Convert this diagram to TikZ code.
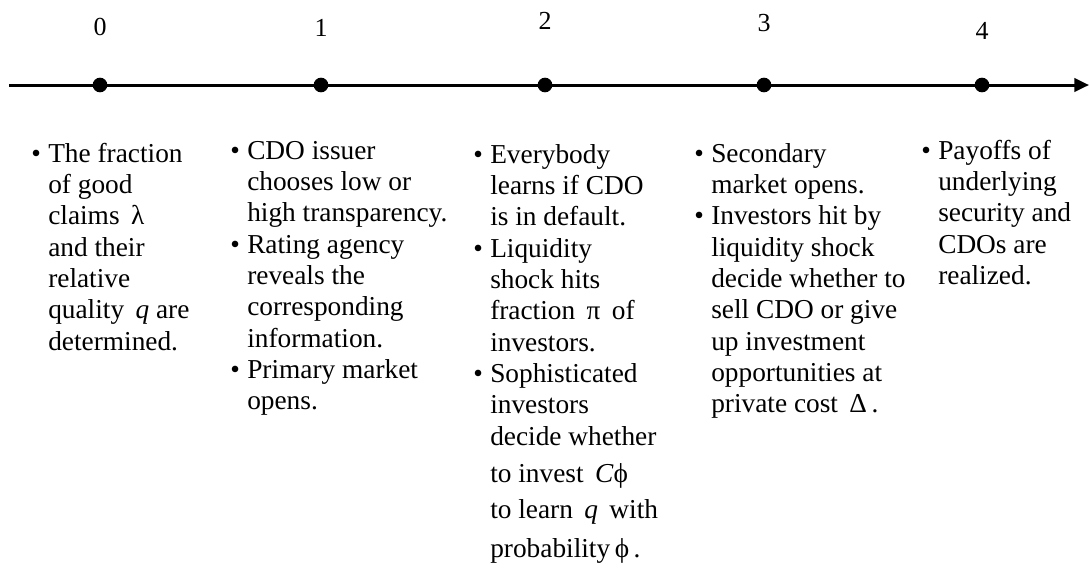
\documentclass[tikz,border=0pt]{standalone}
\usepackage{fontspec}
\setmainfont{Liberation Serif}
\usetikzlibrary{arrows.meta}
\newcommand{\bul}{\llap{\textbullet\hspace{5.5pt}}}
\tikzset{
  tline/.style={line width=2.25pt, -{Triangle[length=11pt,width=10pt]}},
  tdot/.style={circle, fill=black, inner sep=0pt, minimum size=11pt},
  tnum/.style={anchor=base, inner sep=0pt, font=\fontsize{19.5}{22}\selectfont},
  evtext/.style={anchor=base west, inner sep=0pt, font=\fontsize{20.5}{23.5}\selectfont}
}
\begin{document}
\begin{tikzpicture}[x=0.75pt, y=-0.75pt]
\useasboundingbox (0,0) rectangle (1089,568);
\coordinate (tl) at (9,85);
\coordinate (tr) at (1089,85);
\draw[tline] (tl) -- (tr);
\foreach \i/\x/\ny in {0/100/35, 1/321/36, 2/545/29, 3/764/31, 4/982/39} {
  \node[tdot] (t\i) at (\x,85) {};
  \node[tnum] (n\i) at (\x,\ny) {\i};
}
\node[evtext] (ev0) at (48,162) {\begin{tabular}[t]{@{}l@{}}
\bul The fraction\\ of good\\ claims \,λ\\ and their\\ relative\\ quality \,\textit{q} are\\ determined.
\end{tabular}};
\node[evtext] (ev1) at (247,159) {\begin{tabular}[t]{@{}l@{}}
\bul CDO issuer\\ chooses low or\\ high transparency.\\ \bul Rating agency\\ reveals the\\ corresponding\\ information.\\ \bul Primary market\\ opens.
\end{tabular}};
\node[evtext] (ev2) at (490,163) {\begin{tabular}[t]{@{}l@{}}
\bul Everybody\\ learns if CDO\\ is in default.\\ \bul Liquidity\\ shock hits\\ fraction \,π \,of\\ investors.\\ \bul Sophisticated\\ investors\\ decide whether\\[4.5pt] to invest \,\textit{C}ϕ\\[3.5pt] to learn \,\textit{q} \,with\\[5.8pt] probability\,ϕ\,.
\end{tabular}};
\node[evtext] (ev3) at (711,162) {\begin{tabular}[t]{@{}l@{}}
\bul Secondary\\ market opens.\\ \bul Investors hit by\\ liquidity shock\\ decide whether to\\ sell CDO or give\\ up investment\\ opportunities at\\ private cost \,Δ\,.
\end{tabular}};
\node[evtext] (ev4) at (938,159) {\begin{tabular}[t]{@{}l@{}}
\bul Payoffs of\\ underlying\\ security and\\ CDOs are\\ realized.
\end{tabular}};
\end{tikzpicture}
\end{document}
